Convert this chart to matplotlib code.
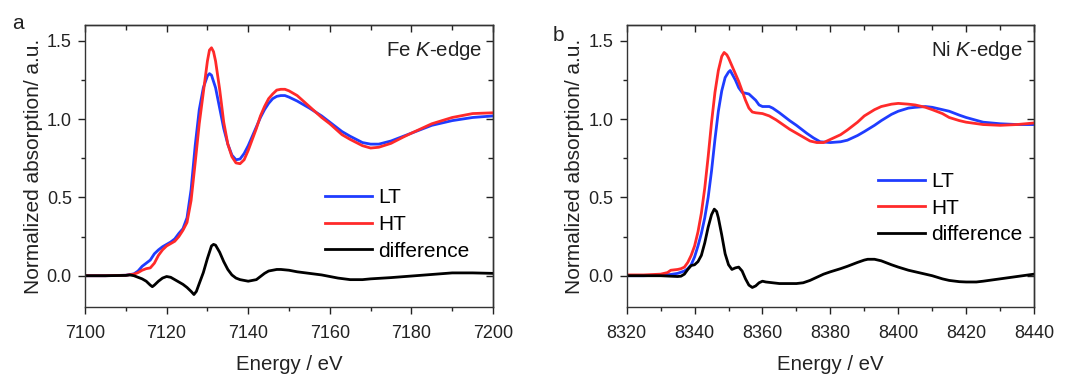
import numpy as np
import matplotlib
matplotlib.use("Agg")
import matplotlib.pyplot as plt
from matplotlib.ticker import MultipleLocator, NullFormatter

plt.rcParams['font.family'] = ['Liberation Sans', 'DejaVu Sans']
plt.rcParams['mathtext.fontset'] = 'custom'
plt.rcParams['mathtext.it'] = 'Liberation Sans:italic'
plt.rcParams['mathtext.rm'] = 'Liberation Sans'

# Fe K-edge
fe_lt_e = [7100, 7105, 7110, 7112, 7113, 7114, 7115, 7116, 7117, 7118, 7119, 7120, 7121, 7122,
           7123, 7124, 7125, 7126, 7127, 7128, 7129, 7130, 7130.5, 7131, 7132, 7133, 7134, 7135,
           7136, 7137, 7138, 7139, 7140, 7141, 7142, 7143, 7144, 7145, 7146, 7147, 7148, 7149,
           7150, 7152, 7155, 7158, 7160, 7163, 7165, 7168, 7170, 7172, 7175, 7178, 7180, 7185,
           7190, 7195, 7200]
fe_lt = [0, 0, 0.003, 0.012, 0.03, 0.06, 0.08, 0.10, 0.14, 0.165, 0.185, 0.20, 0.215, 0.235,
         0.27, 0.30, 0.37, 0.55, 0.83, 1.06, 1.20, 1.275, 1.29, 1.28, 1.20, 1.07, 0.94, 0.84,
         0.77, 0.74, 0.745, 0.78, 0.83, 0.89, 0.95, 1.01, 1.06, 1.10, 1.13, 1.145, 1.15, 1.15,
         1.14, 1.115, 1.07, 1.02, 0.98, 0.92, 0.89, 0.85, 0.84, 0.84, 0.86, 0.89, 0.91, 0.96,
         0.99, 1.01, 1.02]

fe_ht_e = [7100, 7105, 7110, 7112, 7113, 7114, 7115, 7116, 7117, 7118, 7119, 7120, 7121, 7122,
           7123, 7124, 7125, 7126, 7127, 7128, 7129, 7130, 7130.5, 7131, 7131.5, 7132, 7133, 7134,
           7135, 7136, 7137, 7138, 7139, 7140, 7141, 7142, 7143, 7144, 7145, 7146, 7147, 7148,
           7149, 7150, 7152, 7155, 7158, 7160, 7163, 7165, 7168, 7170, 7172, 7175, 7178, 7180,
           7185, 7190, 7195, 7200]
fe_ht = [0, 0, 0.003, 0.01, 0.02, 0.035, 0.045, 0.05, 0.08, 0.13, 0.165, 0.19, 0.205, 0.22,
         0.25, 0.29, 0.34, 0.48, 0.72, 0.97, 1.17, 1.37, 1.44, 1.455, 1.43, 1.37, 1.19, 0.98,
         0.84, 0.76, 0.72, 0.715, 0.74, 0.80, 0.87, 0.94, 1.02, 1.08, 1.13, 1.16, 1.185, 1.19,
         1.19, 1.18, 1.15, 1.08, 1.01, 0.97, 0.90, 0.87, 0.83, 0.815, 0.82, 0.845, 0.885, 0.91,
         0.97, 1.01, 1.035, 1.04]

fe_diff_e = [7100, 7105, 7110, 7111, 7112, 7113, 7114, 7115, 7116, 7116.5, 7117, 7118, 7119, 7120,
             7121, 7122, 7123, 7124, 7125, 7126, 7126.7, 7127.3, 7128, 7129, 7130, 7131, 7131.5,
             7132, 7133, 7134, 7135, 7136, 7137, 7138, 7139, 7140, 7141, 7142, 7143, 7144, 7145,
             7146, 7147, 7148, 7150, 7152, 7155, 7158, 7160, 7162, 7165, 7168, 7170, 7175, 7180,
             7185, 7190, 7195, 7200]
fe_diff = [0, 0, 0.002, 0.005, 0.0, -0.01, -0.02, -0.035, -0.06, -0.07, -0.06, -0.035, -0.015, -0.005,
           -0.01, -0.025, -0.04, -0.055, -0.075, -0.10, -0.12, -0.10, -0.05, 0.02, 0.11, 0.19, 0.20,
           0.195, 0.15, 0.09, 0.04, 0.005, -0.015, -0.025, -0.03, -0.035, -0.03, -0.025, -0.005, 0.015, 0.03,
           0.035, 0.04, 0.04, 0.035, 0.025, 0.015, 0.005, -0.005, -0.015, -0.025, -0.025, -0.02, -0.012, -0.002,
           0.008, 0.018, 0.018, 0.015]

# Ni K-edge
ni_lt_e = [8320, 8325, 8330, 8333, 8335, 8337, 8338, 8339, 8340, 8341, 8342, 8343, 8344, 8345,
           8346, 8347, 8348, 8349, 8350, 8350.5, 8351, 8352, 8353, 8354, 8355, 8356, 8357, 8358,
           8359, 8360, 8361, 8362, 8363, 8365, 8368, 8370, 8373, 8375, 8377, 8380, 8383, 8385,
           8388, 8390, 8393, 8395, 8398, 8400, 8403, 8405, 8408, 8410, 8413, 8415, 8418, 8420,
           8425, 8430, 8435, 8440]
ni_lt = [0, 0, 0.003, 0.008, 0.015, 0.03, 0.045, 0.07, 0.12, 0.19, 0.27, 0.37, 0.50, 0.67,
         0.87, 1.05, 1.18, 1.265, 1.30, 1.31, 1.29, 1.25, 1.20, 1.17, 1.165, 1.16, 1.14, 1.12,
         1.09, 1.08, 1.08, 1.08, 1.07, 1.04, 0.99, 0.96, 0.91, 0.88, 0.855, 0.85, 0.855, 0.865,
         0.895, 0.92, 0.96, 0.99, 1.03, 1.05, 1.07, 1.075, 1.08, 1.075, 1.06, 1.05, 1.025, 1.01,
         0.98, 0.97, 0.965, 0.965]

ni_ht_e = [8320, 8325, 8330, 8332, 8333, 8335, 8336, 8337, 8338, 8339, 8340, 8341, 8342, 8343,
           8344, 8345, 8346, 8347, 8348, 8348.7, 8349.5, 8350, 8351, 8352, 8353, 8354, 8355, 8356,
           8357, 8358, 8360, 8362, 8364, 8366, 8368, 8370, 8372, 8374, 8376, 8378, 8380, 8383,
           8385, 8388, 8390, 8393, 8395, 8398, 8400, 8403, 8405, 8408, 8410, 8413, 8415, 8418,
           8420, 8425, 8430, 8435, 8440]
ni_ht = [0.005, 0.005, 0.01, 0.02, 0.035, 0.04, 0.045, 0.055, 0.085, 0.13, 0.19, 0.28, 0.40, 0.56,
         0.76, 0.98, 1.17, 1.31, 1.40, 1.425, 1.41, 1.39, 1.34, 1.29, 1.24, 1.18, 1.12, 1.07,
         1.045, 1.04, 1.035, 1.02, 0.995, 0.965, 0.935, 0.91, 0.885, 0.86, 0.85, 0.85, 0.87, 0.90,
         0.93, 0.98, 1.02, 1.06, 1.08, 1.095, 1.10, 1.095, 1.09, 1.075, 1.06, 1.035, 1.01, 0.99,
         0.98, 0.965, 0.96, 0.965, 0.975]

ni_diff_e = [8320, 8325, 8330, 8333, 8335, 8336, 8337, 8338, 8339, 8340, 8341, 8342, 8343, 8344,
             8345, 8345.8, 8346.5, 8347, 8348, 8349, 8350, 8351, 8352, 8353, 8354, 8355, 8356, 8357,
             8358, 8359, 8360, 8361, 8363, 8365, 8368, 8370, 8372, 8374, 8376, 8378, 8380, 8383,
             8385, 8388, 8390, 8391, 8393, 8395, 8398, 8400, 8403, 8405, 8408, 8410, 8413, 8415,
             8418, 8420, 8423, 8425, 8430, 8435, 8440]
ni_diff = [0, 0, 0, -0.003, -0.005, -0.003, 0.01, 0.04, 0.065, 0.07, 0.09, 0.13, 0.21, 0.31,
           0.39, 0.425, 0.41, 0.37, 0.26, 0.14, 0.07, 0.04, 0.05, 0.055, 0.03, -0.02, -0.06, -0.075,
           -0.065, -0.045, -0.035, -0.04, -0.045, -0.05, -0.05, -0.05, -0.045, -0.03, -0.01, 0.01, 0.025, 0.045,
           0.06, 0.085, 0.10, 0.105, 0.105, 0.095, 0.07, 0.055, 0.035, 0.025, 0.01, 0.0, -0.02, -0.03,
           -0.038, -0.04, -0.04, -0.035, -0.02, -0.005, 0.01]

blue = '#1f3cff'
red = '#ff2a2a'
dark = '#222222'

fig = plt.figure(figsize=(10.72, 3.74), dpi=100)
ax1 = fig.add_axes([0.0793, 0.179, 0.3806, 0.754])
ax2 = fig.add_axes([0.5846, 0.179, 0.3800, 0.754])


def style(ax, xlim, title, leg_xy):
    ax.set_xlim(*xlim)
    ax.set_ylim(-0.2, 1.6)
    ax.xaxis.set_major_locator(MultipleLocator(20))
    ax.xaxis.set_minor_locator(MultipleLocator(10))
    ax.yaxis.set_major_locator(MultipleLocator(0.5))
    ax.yaxis.set_minor_locator(MultipleLocator(0.25))
    ax.yaxis.set_major_formatter(plt.FormatStrFormatter('%.1f'))
    # bottom / left ticks point outwards
    ax.tick_params(which='both', direction='out', colors=dark, labelsize=13, width=1)
    ax.tick_params(which='major', length=5)
    ax.tick_params(which='minor', length=3)
    ax.tick_params(axis='x', which='major', pad=8)
    ax.tick_params(axis='y', which='major', pad=4.5)
    for s in ax.spines.values():
        s.set_color('#333333')
        s.set_linewidth(1)
    # top / right ticks point inwards
    top = ax.secondary_xaxis('top')
    top.xaxis.set_major_locator(MultipleLocator(20))
    top.xaxis.set_minor_locator(MultipleLocator(10))
    top.xaxis.set_major_formatter(NullFormatter())
    right = ax.secondary_yaxis('right')
    right.yaxis.set_major_locator(MultipleLocator(0.5))
    right.yaxis.set_minor_locator(MultipleLocator(0.25))
    right.yaxis.set_major_formatter(NullFormatter())
    for sec in (top, right):
        sec.tick_params(which='both', direction='in', colors=dark, width=1)
        sec.tick_params(which='major', length=5)
        sec.tick_params(which='minor', length=3.5)
        for s in sec.spines.values():
            s.set_color('#333333')
            s.set_linewidth(1)
    ax.set_xlabel('Energy / eV', fontsize=14.7, color=dark, labelpad=9)
    ax.set_ylabel('Normalized absorption/ a.u.', fontsize=15, color=dark, labelpad=3)
    ax.text(0.973, 0.911, title, transform=ax.transAxes, ha='right', va='center',
            fontsize=14.7, color=dark)
    ax.legend(loc='center left', bbox_to_anchor=leg_xy, frameon=False, fontsize=15,
              handlelength=2.26, handletextpad=0.3, labelspacing=0.37,
              borderpad=0, borderaxespad=0)


ax1.plot(fe_lt_e, fe_lt, color=blue, lw=2, label='LT')
ax1.plot(fe_ht_e, fe_ht, color=red, lw=2, label='HT')
ax1.plot(fe_diff_e, fe_diff, color='black', lw=2, label='difference')
style(ax1, (7100, 7200), 'Fe $K$-edge', (0.588, 0.293))

ax2.plot(ni_lt_e, ni_lt, color=blue, lw=2, label='LT')
ax2.plot(ni_ht_e, ni_ht, color=red, lw=2, label='HT')
ax2.plot(ni_diff_e, ni_diff, color='black', lw=2, label='difference')
style(ax2, (8320, 8440), 'Ni $K$-edge', (0.617, 0.351))

fig.text(0.011, 0.936, 'a', fontsize=15, color=dark, va='center')
fig.text(0.516, 0.905, 'b', fontsize=15, color=dark, va='center')

fig.savefig('out.png', dpi=100)
